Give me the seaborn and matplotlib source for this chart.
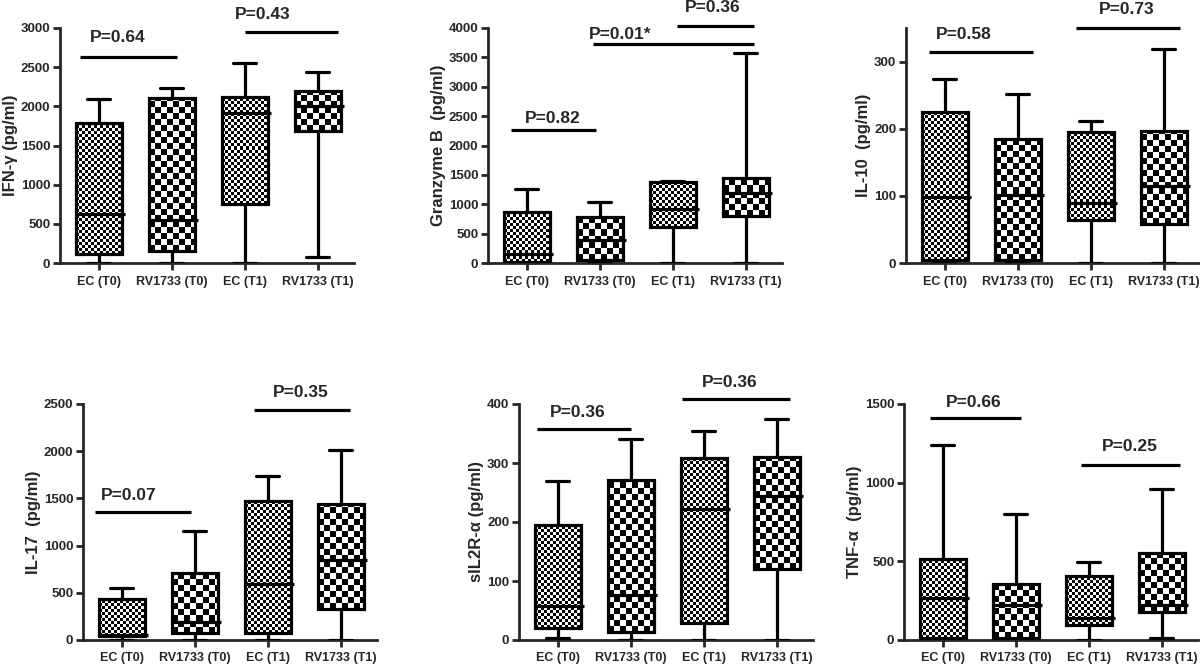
import numpy as np
import pandas as pd
import matplotlib
matplotlib.use("Agg")
import matplotlib.pyplot as plt
import seaborn as sns

# groups on the x axis
groups = ["EC (T0)", "RV1733 (T0)", "EC (T1)", "RV1733 (T1)"]

# five numbers per box: min, q1, median, q3, max
ifn_g = [[0, 115, 625, 1793, 2090], [0, 149, 552, 2103, 2231],
         [0, 756, 1921, 2125, 2550], [72, 1691, 2006, 2201, 2439]]
granzyme_b = [[0, 25, 159, 867, 1258], [0, 57, 397, 782, 1031],
              [0, 606, 918, 1371, 1399], [0, 805, 1190, 1445, 3569]]
il_10 = [[0, 5, 98, 225, 274], [0, 5, 102, 184, 252],
         [0, 64, 90, 195, 211], [0, 58, 114, 196, 318]]
il_17 = [[0, 40, 53, 431, 548], [0, 71, 194, 707, 1156],
         [0, 78, 594, 1475, 1733], [0, 325, 849, 1439, 2015]]
sil2r_a = [[4, 20, 58, 195, 269], [0, 13, 77, 272, 341],
           [0, 28, 222, 308, 355], [0, 120, 244, 311, 374]]
tnf_a = [[0, 10, 268, 518, 1240], [0, 10, 222, 353, 803],
         [0, 95, 137, 408, 496], [15, 180, 222, 556, 957]]

# p values shown above the boxes
p_ifn = ["P=0.64", "P=0.43"]
p_gzb = ["P=0.82", "P=0.01*", "P=0.36"]
p_il10 = ["P=0.58", "P=0.73"]
p_il17 = ["P=0.07", "P=0.35"]
p_sil2r = ["P=0.36", "P=0.36"]
p_tnf = ["P=0.66", "P=0.25"]

ylabels = ["IFN-\u03b3 (pg/ml)", "Granzyme B  (pg/ml)", "IL-10  (pg/ml)",
           "IL-17  (pg/ml)", "sIL2R-\u03b1 (pg/ml)", "TNF-\u03b1  (pg/ml)"]

sns.set_style("ticks")
plt.rcParams['font.family'] = ['Liberation Sans', 'DejaVu Sans']
plt.rcParams['font.weight'] = 'bold'

fig = plt.figure(figsize=(12, 6.66), dpi=100)
W, H = 1200, 666


def make_ax(left, top, bottom, width=294):
    return fig.add_axes([left / W, 1 - bottom / H, width / W, (bottom - top) / H])


def checker_fill(ax, patch, cell):
    # checkerboard texture clipped to the box
    bb = patch.get_path().get_extents(patch.get_transform())
    nx = int(np.ceil(bb.width / cell)) + 1
    ny = int(np.ceil(bb.height / cell)) + 1
    img = np.add.outer(np.arange(ny), np.arange(nx)) % 2
    inv = ax.transData.inverted()
    x0, y0 = inv.transform((bb.x0, bb.y0))
    x1, y1 = inv.transform((bb.x0 + nx * cell, bb.y0 + ny * cell))
    im = ax.imshow(img, extent=(x0, x1, y0, y1), origin="lower", cmap="gray",
                   interpolation="nearest", aspect="auto", zorder=2)
    im.set_clip_path(patch)


def draw_panel(ax, boxes, ylim, yticks, ylabel, pvals, pos):
    df = pd.DataFrame({
        "group": np.repeat(groups, 5),
        "value": np.concatenate(boxes),
    })
    ax.set_xlim(-0.53, 3.5)
    ax.set_ylim(*ylim)
    sns.boxplot(data=df, x="group", y="value", order=groups, ax=ax,
                whis=(0, 100), width=0.63, color="white", linecolor="black",
                linewidth=2.3, fliersize=0, saturation=1)
    ax.set_xlim(-0.53, 3.5)
    ax.set_ylim(*ylim)
    bc = ax.containers[0]
    for i, patch in enumerate(bc.boxes):
        checker_fill(ax, patch, 3 if i % 2 == 0 else 6)
        patch.set_facecolor("none")
        patch.set_zorder(3)
    for ln in ax.lines:
        ln.set_zorder(4)
    for med in bc.medians:
        xd = med.get_xdata()
        med.set_xdata([xd[0], xd[1] + 0.05])
    ax.set_yticks(yticks)
    ax.set_xlabel("")
    ax.set_ylabel(ylabel, fontsize=12, fontweight="bold", labelpad=2)
    sns.despine(ax=ax)
    for s in ["left", "bottom"]:
        ax.spines[s].set_linewidth(2.0)
    ax.tick_params(axis="both", width=2.0, length=5, pad=2, labelsize=9.5)
    ax.tick_params(axis="x", labelsize=9, pad=4)
    for lab in ax.get_xticklabels() + ax.get_yticklabels():
        lab.set_fontweight("bold")
    for txt, (xa, xb, yl, tx, ty) in zip(pvals, pos):
        ax.plot([xa, xb], [yl, yl], color="black", lw=2.3, clip_on=False,
                solid_capstyle="butt")
        ax.text(tx, ty, txt, ha="center", va="center", fontsize=12.5,
                fontweight="bold", clip_on=False)


ax1 = make_ax(60, 28, 263)
draw_panel(ax1, ifn_g, (0, 3000), range(0, 3001, 500), ylabels[0], p_ifn,
           [(-0.26, 1.07, 2626, 0.26, 2877), (2.01, 3.28, 2953, 2.25, 3166)])

ax2 = make_ax(488, 28, 263)
draw_panel(ax2, granzyme_b, (0, 4000), range(0, 4001, 500), ylabels[1], p_gzb,
           [(-0.22, 0.95, 2266, 0.36, 2465), (0.91, 3.12, 3722, 1.28, 3892),
            (2.06, 3.12, 4040, 2.55, 4351)])

ax3 = make_ax(906, 28, 263)
draw_panel(ax3, il_10, (0, 350), range(0, 301, 100), ylabels[2], p_il10,
           [(-0.22, 1.21, 315, 0.26, 341), (1.8, 3.22, 350, 2.49, 377)])

ax4 = make_ax(83, 404, 640)
draw_panel(ax4, il_17, (0, 2500), range(0, 2501, 500), ylabels[3], p_il17,
           [(-0.36, 0.95, 1354, 0.10, 1528), (1.81, 3.13, 2440, 2.45, 2617)])

ax5 = make_ax(519, 404, 640)
draw_panel(ax5, sil2r_a, (0, 400), range(0, 401, 100), ylabels[4], p_sil2r,
           [(-0.29, 1.01, 358, 0.27, 385), (1.70, 3.18, 409, 2.36, 436)])

ax6 = make_ax(904, 404, 640)
draw_panel(ax6, tnf_a, (0, 1500), range(0, 1501, 500), ylabels[5], p_tnf,
           [(-0.17, 1.07, 1411, 0.42, 1511), (1.90, 3.26, 1115, 2.57, 1232)])

fig.savefig("out.png", dpi=100)
